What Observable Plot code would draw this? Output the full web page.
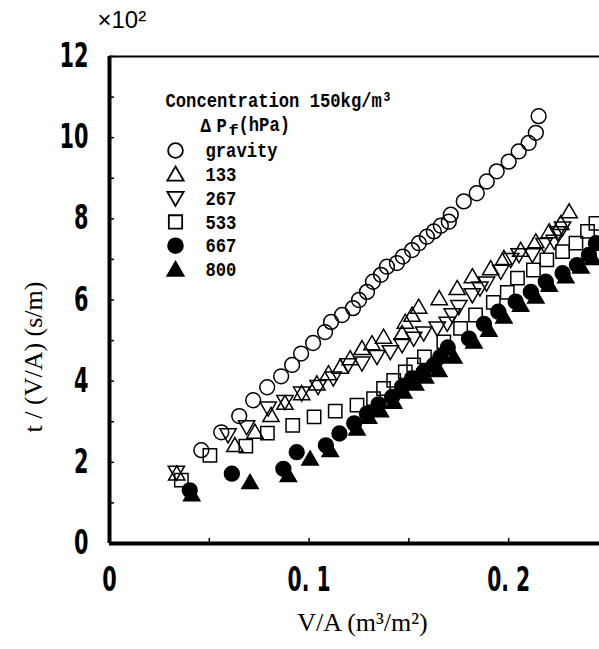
<!DOCTYPE html>
<html><head><meta charset="utf-8">
<script src="https://cdn.jsdelivr.net/npm/d3@7"></script>
<script src="https://cdn.jsdelivr.net/npm/@observablehq/plot@0.6"></script>
<style>body{margin:0;background:#fff;overflow:hidden}</style>
</head><body><div id="chart"></div>
<script>
// ---- data (V/A in m3/m2, t/(V/A) in 10^2 s/m) ----
const seriesNames = ["gravity", "133", "267", "533", "667", "800"];

const xGravity = [0.046,0.056,0.065,0.072,0.079,0.086,0.0915,0.096,0.102,0.108,0.111,0.1165,0.122,0.125,0.129,0.132,0.136,0.139,0.144,0.147,0.1516,0.155,0.159,0.1625,0.166,0.170,0.171,0.1775,0.184,0.189,0.194,0.200,0.205,0.210,0.2136,0.215];
const yGravity = [2.30,2.74,3.14,3.53,3.85,4.12,4.40,4.68,4.94,5.21,5.46,5.63,5.80,6.00,6.20,6.45,6.62,6.82,6.91,7.07,7.23,7.40,7.56,7.69,7.83,7.93,8.10,8.43,8.63,8.92,9.17,9.41,9.66,9.87,10.12,10.53];

const x133 = [0.0337,0.0628,0.0729,0.0809,0.0879,0.0963,0.1039,0.1097,0.1156,0.1206,0.1265,0.1315,0.1373,0.1466,0.1482,0.1516,0.1549,0.1652,0.1742,0.1818,0.1910,0.1976,0.2060,0.2136,0.2203,0.2261,0.2303];
const y133 = [1.72,2.42,2.75,3.16,3.46,3.70,3.94,4.19,4.35,4.56,4.81,4.93,5.09,5.18,5.46,5.63,5.83,6.04,6.29,6.58,6.78,7.03,7.23,7.44,7.69,7.89,8.18];

const x267 = [0.0335,0.0594,0.0687,0.0795,0.0879,0.0963,0.1045,0.1121,0.1196,0.1265,0.1340,0.1407,0.1466,0.1524,0.1574,0.1642,0.1692,0.1717,0.1750,0.1818,0.1856,0.1889,0.1960,0.2010,0.2052,0.2119,0.2177,0.2228,0.2245,0.2270];
const y267 = [1.75,2.67,2.87,3.33,3.49,3.70,3.86,4.07,4.40,4.44,4.60,4.72,4.89,5.05,5.18,5.30,5.42,5.63,5.83,6.12,6.29,6.41,6.70,6.99,7.11,7.11,7.36,7.44,7.65,7.77];

const x533 = [0.0360,0.0503,0.0683,0.0791,0.0918,0.1025,0.1131,0.1240,0.1323,0.1373,0.1424,0.1482,0.1524,0.1578,0.1675,0.1759,0.1834,0.1923,0.1993,0.2044,0.2124,0.2191,0.2270,0.2337,0.2395,0.2437];
const y533 = [1.56,2.17,2.40,2.72,2.91,3.12,3.26,3.41,3.57,3.82,4.02,4.23,4.40,4.60,4.97,5.30,5.63,5.94,6.19,6.54,6.74,6.99,7.19,7.40,7.69,7.89];

const x667 = [0.0402,0.0613,0.0871,0.0938,0.1084,0.1152,0.1226,0.1290,0.1348,0.1416,0.1466,0.1516,0.1574,0.1625,0.1658,0.1695,0.1801,0.1876,0.1948,0.2035,0.2111,0.2186,0.2270,0.2342,0.2402,0.2437];
const y667 = [1.31,1.72,1.84,2.25,2.42,2.71,2.96,3.20,3.43,3.61,3.86,4.07,4.23,4.40,4.60,4.83,5.05,5.41,5.71,5.96,6.20,6.45,6.66,6.86,7.11,7.40];

const x800 = [0.0412,0.0704,0.0896,0.1005,0.1106,0.1240,0.1298,0.1357,0.1424,0.1474,0.1533,0.1583,0.1650,0.1725,0.1826,0.1901,0.1976,0.2060,0.2136,0.2203,0.2286,0.2362,0.2421];
const y800 = [1.21,1.51,1.68,2.09,2.30,2.83,3.12,3.28,3.49,3.74,3.94,4.11,4.27,4.60,4.97,5.26,5.59,5.88,6.08,6.37,6.58,6.82,7.03];

const yTickValues = [0,1,2,3,4,5,6,7,8,9,10,11,12];
const yTickLabelValues = [0,2,4,6,8,10,12];
const xTickValues = [0,0.05,0.1,0.15,0.2,0.25];
const xTickLabelValues = [0,0.1,0.2];
const xTickLabels = ["0","0. 1","0. 2"];

const legendTitle = "Concentration 150kg/m³";
const xLabel = "V/A (m³/m²)";
const yLabel = "t / (V/A) (s/m)";
const yUnit = "×10²";

// ---- symbols ----
const symUp = {draw(c, size){const r=Math.sqrt(size/Math.PI); c.moveTo(0,-1.05*r); c.lineTo(1.1*r,0.85*r); c.lineTo(-1.1*r,0.85*r); c.closePath();}};
const symDown = {draw(c, size){const r=Math.sqrt(size/Math.PI); c.moveTo(0,1.05*r); c.lineTo(1.1*r,-0.85*r); c.lineTo(-1.1*r,-0.85*r); c.closePath();}};
const symSquare = {draw(c, size){const r=Math.sqrt(size/Math.PI); const s=0.9*r; c.rect(-s,-s,2*s,2*s);}};

const xs = [xGravity,x133,x267,x533,x667,x800];
const ys = [yGravity,y133,y267,y533,y667,y800];
const symbols = ["circle", symUp, symDown, symSquare, "circle", symUp];
const fills = ["none","none","none","none","black","black"];

const series = seriesNames.map((name, k) => ({
  name, symbol: symbols[k], fill: fills[k],
  rows: xs[k].map((x, i) => ({x, y: ys[k][i]}))
}));

const monoFont = "'Liberation Mono', 'DejaVu Sans Mono', monospace";
const tickFont = "'DejaVu Sans', 'Liberation Sans', sans-serif";
const serifFont = "'Liberation Serif', 'DejaVu Serif', serif";

const rowStep = 23.8;
const legendText = (t, dx, dy, fontSize = 21) => Plot.text([t], {frameAnchor: "top-left", dx, dy, textAnchor: "start", lineAnchor: "middle",
    fontSize, fontWeight: "bold", fontFamily: monoFont});

const marks = [
  Plot.ruleY([12], {stroke: "black", strokeWidth: 2}),
  Plot.ruleX([0], {stroke: "black", strokeWidth: 4}),
  Plot.ruleY([0], {stroke: "black", strokeWidth: 4}),
  Plot.axisY({ticks: yTickValues, tickSize: -5, tickFormat: () => "", label: null, strokeWidth: 1.5}),
  Plot.axisX({ticks: xTickValues, tickSize: -5, tickFormat: () => "", label: null, strokeWidth: 1.5}),
  Plot.axisY({ticks: yTickLabelValues, tickSize: 0, tickPadding: 21, label: null,
    fontSize: 33, fontWeight: "bold", fontFamily: tickFont}),
  Plot.axisX({ticks: xTickLabelValues, tickSize: 0, tickPadding: 24, label: null,
    tickFormat: d => xTickLabels[xTickLabelValues.indexOf(d)],
    fontSize: 33, fontWeight: "bold", fontFamily: tickFont}),
  ...series.map(s => Plot.dot(s.rows, {x: "x", y: "y", symbol: () => s.symbol, r: 7.4,
    fill: s.fill, stroke: "black", strokeWidth: 1.5})),
  // axis titles
  Plot.text([yUnit], {frameAnchor: "top-left", dx: -12, dy: -36, textAnchor: "start", lineAnchor: "middle",
    fontSize: 24, fontFamily: "'Liberation Sans', sans-serif"}),
  Plot.text([xLabel], {frameAnchor: "bottom", dx: 8, dy: 79, lineAnchor: "middle",
    fontSize: 26, fontFamily: serifFont}),
  Plot.text([yLabel], {frameAnchor: "left", dx: -76, dy: 57, rotate: -90, textAnchor: "middle", lineAnchor: "middle",
    fontSize: 26, fontFamily: serifFont, letterSpacing: 2.5}),
  // legend
  legendText(legendTitle, 56, 44),
  legendText("Δ", 91, 69),
  legendText("P", 107, 69),
  legendText("f", 119, 74, 15),
  legendText("(hPa)", 129, 68),
  ...series.map((s, i) => Plot.dot([s.name], {frameAnchor: "top-left", dx: 66, dy: 94 + i * rowStep,
    symbol: () => s.symbol, r: 7.4, fill: s.fill, stroke: "black", strokeWidth: 1.8})),
  ...series.map((s, i) => legendText(s.name, 96, 94 + i * rowStep))
];

const chart = Plot.plot({
  width: 599, height: 649,
  marginLeft: 109, marginTop: 56, marginBottom: 106, marginRight: 0,
  x: {domain: [0, 0.2455]},
  y: {domain: [0, 12]},
  style: {background: "white", color: "black", overflow: "visible"},
  marks
});

// condensed, half-width looking glyphs as in the reference
chart.querySelectorAll("g[font-family]").forEach(g => {
  const ff = g.getAttribute("font-family");
  g.querySelectorAll("text").forEach(t => {
    const s = t.textContent;
    if (!s) return;
    if (ff.startsWith("'Liberation Mono'")) {
      t.setAttribute("textLength", [...s].length * 10.3);
      t.setAttribute("lengthAdjust", "spacingAndGlyphs");
    } else if (ff.startsWith("'DejaVu Sans'")) {
      const digits = (s.match(/[0-9]/g) || []).length;
      t.setAttribute("textLength", digits * 14.5 + (s.length - digits) * 7);
      t.setAttribute("lengthAdjust", "spacingAndGlyphs");
    }
  });
});

document.getElementById("chart").appendChild(chart);
</script>
</body></html>
